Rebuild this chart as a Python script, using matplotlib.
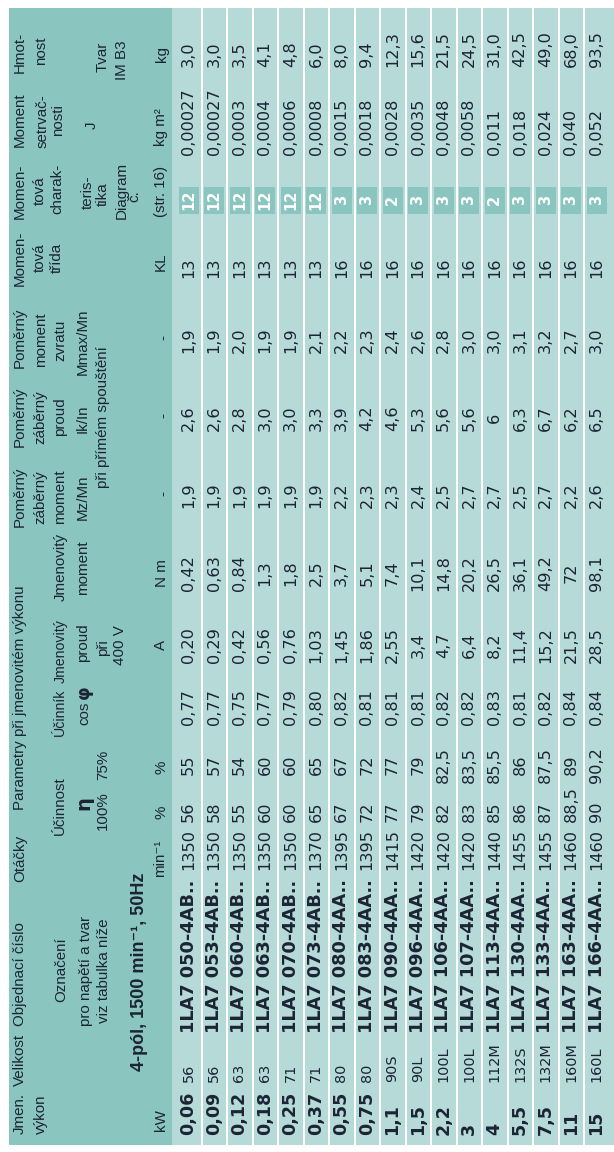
import matplotlib
matplotlib.use('Agg')
import matplotlib.pyplot as plt
from matplotlib.patches import Rectangle
from matplotlib import font_manager as fm

# ---------------- data ----------------
power_kw = ['0,06', '0,09', '0,12', '0,18', '0,25', '0,37', '0,55', '0,75', '1,1',
            '1,5', '2,2', '3', '4', '5,5', '7,5', '11', '15']
frame_size = ['56', '56', '63', '63', '71', '71', '80', '80', '90S', '90L', '100L',
              '100L', '112M', '132S', '132M', '160M', '160L']
order_no = ['1LA7 050-4AB..', '1LA7 053-4AB..', '1LA7 060-4AB..', '1LA7 063-4AB..',
            '1LA7 070-4AB..', '1LA7 073-4AB..', '1LA7 080-4AA..', '1LA7 083-4AA..',
            '1LA7 090-4AA..', '1LA7 096-4AA..', '1LA7 106-4AA..', '1LA7 107-4AA..',
            '1LA7 113-4AA..', '1LA7 130-4AA..', '1LA7 133-4AA..', '1LA7 163-4AA..',
            '1LA7 166-4AA..']
speed_rpm = ['1350', '1350', '1350', '1350', '1350', '1370', '1395', '1395', '1415',
             '1420', '1420', '1420', '1440', '1455', '1455', '1460', '1460']
eff_100 = ['56', '58', '55', '60', '60', '65', '67', '72', '77', '79', '82', '83', '85',
           '86', '87', '88,5', '90']
eff_75 = ['55', '57', '54', '60', '60', '65', '67', '72', '77', '79', '82,5', '83,5',
          '85,5', '86', '87,5', '89', '90,2']
cos_phi = ['0,77', '0,77', '0,75', '0,77', '0,79', '0,80', '0,82', '0,81', '0,81',
           '0,81', '0,82', '0,82', '0,83', '0,81', '0,82', '0,84', '0,84']
current_a = ['0,20', '0,29', '0,42', '0,56', '0,76', '1,03', '1,45', '1,86', '2,55',
             '3,4', '4,7', '6,4', '8,2', '11,4', '15,2', '21,5', '28,5']
torque_nm = ['0,42', '0,63', '0,84', '1,3', '1,8', '2,5', '3,7', '5,1', '7,4', '10,1',
             '14,8', '20,2', '26,5', '36,1', '49,2', '72', '98,1']
mz_mn = ['1,9', '1,9', '1,9', '1,9', '1,9', '1,9', '2,2', '2,3', '2,3', '2,4', '2,5',
         '2,7', '2,7', '2,5', '2,7', '2,2', '2,6']
ik_in = ['2,6', '2,6', '2,8', '3,0', '3,0', '3,3', '3,9', '4,2', '4,6', '5,3', '5,6',
         '5,6', '6', '6,3', '6,7', '6,2', '6,5']
mmax_mn = ['1,9', '1,9', '2,0', '1,9', '1,9', '2,1', '2,2', '2,3', '2,4', '2,6', '2,8',
           '3,0', '3,0', '3,1', '3,2', '2,7', '3,0']
torque_class = ['13', '13', '13', '13', '13', '13', '16', '16', '16', '16', '16', '16',
                '16', '16', '16', '16', '16']
diagram_no = ['12', '12', '12', '12', '12', '12', '3', '3', '2', '3', '3', '3', '2',
              '3', '3', '3', '3']
inertia = ['0,00027', '0,00027', '0,0003', '0,0004', '0,0006', '0,0008', '0,0015',
           '0,0018', '0,0028', '0,0035', '0,0048', '0,0058', '0,011', '0,018', '0,024',
           '0,040', '0,052']
mass_kg = ['3,0', '3,0', '3,5', '4,1', '4,8', '6,0', '8,0', '9,4', '12,3', '15,6',
           '21,5', '24,5', '31,0', '42,5', '49,0', '68,0', '93,5']

# ---------------- style ----------------
W, H = 614, 1152
HEAD_BG = '#8bc5c0'
DATA_BG = '#b6dad8'
BOX_BG = '#8bc5c0'
TXT = '#1c2434'

names = {f.name for f in fm.fontManager.ttflist}
if 'Liberation Sans Narrow' in names:
    HF, HS = ['Liberation Sans Narrow', 'DejaVu Sans'], 12.6
else:
    HF, HS = ['Liberation Sans', 'DejaVu Sans'], 10.9
DF, DS = ['DejaVu Sans'], 11.6

fig = plt.figure(figsize=(W / 100, H / 100), dpi=100)
ax = fig.add_axes([0, 0, 1, 1])
ax.set_xlim(0, W)
ax.set_ylim(H, 0)
ax.axis('off')

top, bottom = 8, 1145
head_l, head_r = 9, 172
ax.add_patch(Rectangle((head_l, top), head_r - head_l, bottom - top, fc=HEAD_BG, ec='none'))
ax.add_patch(Rectangle((head_r, top), W - head_r, bottom - top, fc=DATA_BG, ec='none'))

n = len(power_kw)
pitch = 25.5
first_sep = 201.7
for i in range(1, n):
    sx = first_sep + pitch * (i - 1)
    ax.add_patch(Rectangle((sx - 1.1, top), 2.2, bottom - top, fc='white', ec='none'))


def rt(x, y, s, va='center', family=None, size=None, weight='normal', color=TXT):
    ax.text(x, y, s, rotation=90, ha='center', va=va, family=family or HF,
            fontsize=size or HS, fontweight=weight, color=color)


# ---------------- header ----------------
header = [
    # line 1
    (20, 1114, 'Jmen.'), (20, 1060, 'Velikost'), (20, 974, 'Objednací číslo'),
    (20, 858, 'Otáčky'), (20, 497, 'Poměrný'), (20, 417, 'Poměrný'),
    (20, 338, 'Poměrný'), (20, 258, 'Momen-'), (20, 191, 'Momen-'),
    (20, 120, 'Moment'), (20, 52, 'Hmot-'),
    # line 2
    (41, 1114, 'výkon'), (40, 497, 'záběrný'), (40, 417, 'záběrný'),
    (41, 340, 'moment'), (40, 258, 'tová'), (40, 191, 'tová'),
    (43, 121, 'setrvač-'), (41, 51, 'nost'),
    # line 3
    (61, 970, 'Označení'), (60, 806, 'Účinnost'),
    (61, 567, 'Jmenovitý'), (60, 497, 'moment'),
    (60, 417, 'proud'), (60, 340, 'zvratu'), (57, 258, 'třída'),
    (57, 189, 'charak-'), (58, 120, 'nosti'),
    # line 4
    (86, 971, 'pro napětí a tvar'), (84, 713, 'cos'), (83, 643, 'proud'),
    (83, 568, 'moment'), (83, 497, 'Mz/Mn'), (83, 419, 'Ik/In'),
    (83, 342, 'Mmax/Mn'), (88, 192, 'teris-'), (92, 125, 'J'),
    # line 5
    (104, 971, 'viz tabulka níže'), (103, 811, '100%'), (103, 765, '75%'),
    (103, 648, 'při'), (103, 417, 'při přímém spouštění'), (103, 194, 'tika'),
    (103, 57, 'Tvar'),
    # line 6
    (120, 645, '400 V'), (122, 190, 'Diagram'), (122, 60, 'IM B3'),
    (134, 196, 'č.'),
    # units
    (161, 1120, 'kW'), (160, 858, 'min⁻¹'), (161, 812, '%'), (161, 767, '%'),
    (161, 645, 'A'), (162, 573, 'N m'), (163, 493, '-'), (163, 415, '-'),
    (163, 338, '-'), (161, 262, 'KL'), (161, 191, '(str. 16)'),
    (161, 127, 'kg m²'), (162, 54, 'kg'),
]
for hx, hy, s in header:
    rt(hx, hy, s)

# tightly set pair in line 3
rt(60, 712, 'Účinník', size=HS * 0.93)
rt(61, 651, 'Jmenovitý', size=HS * 0.93)

# parameters heading spans several columns (left-aligned at bottom)
ax.text(20, 810, 'Parametry při jmenovitém výkonu', rotation=90, ha='center',
        va='bottom', family=HF, fontsize=HS, color=TXT)
# special symbols
rt(84, 803, 'η', family=['DejaVu Sans'], size=14, weight='bold')
rt(84, 692, 'φ', family=['DejaVu Sans'], size=12.5, weight='bold')
# section title
rt(140, 972, '4-pól, 1500 min⁻¹, 50Hz', family=['Liberation Sans', 'DejaVu Sans'],
   size=13, weight='bold')

# ---------------- body ----------------
for i in range(n):
    cx = 188.5 + pitch * i
    rt(cx, 1135, power_kw[i], va='bottom', family=DF, size=12.6, weight='bold')
    rt(cx, 1082, frame_size[i], va='bottom', family=DF, size=10.4)
    rt(cx, 1033, order_no[i], va='bottom', family=DF, size=12.8, weight='bold')
    rt(cx, 849, speed_rpm[i], family=DF, size=DS)
    rt(cx, 822, eff_100[i], va='bottom', family=DF, size=DS)
    rt(cx, 765, eff_75[i], family=DF, size=DS)
    rt(cx, 707, cos_phi[i], family=DF, size=DS)
    rt(cx, 645, current_a[i], family=DF, size=DS)
    rt(cx, 573, torque_nm[i], family=DF, size=DS)
    rt(cx, 495, mz_mn[i], family=DF, size=DS)
    rt(cx, 418, ik_in[i], family=DF, size=DS)
    rt(cx, 340, mmax_mn[i], family=DF, size=DS)
    rt(cx, 268, torque_class[i], family=DF, size=DS)
    ax.add_patch(Rectangle((cx - 10, 186.5), 20, 27, fc=BOX_BG, ec='none'))
    rt(cx, 200, diagram_no[i], family=DF, size=10.5, weight='bold', color='white')
    rt(cx, 155, inertia[i], va='bottom', family=DF, size=DS)
    rt(cx, 67, mass_kg[i], va='bottom', family=DF, size=DS)

fig.savefig('out.png', dpi=100, facecolor='white')
